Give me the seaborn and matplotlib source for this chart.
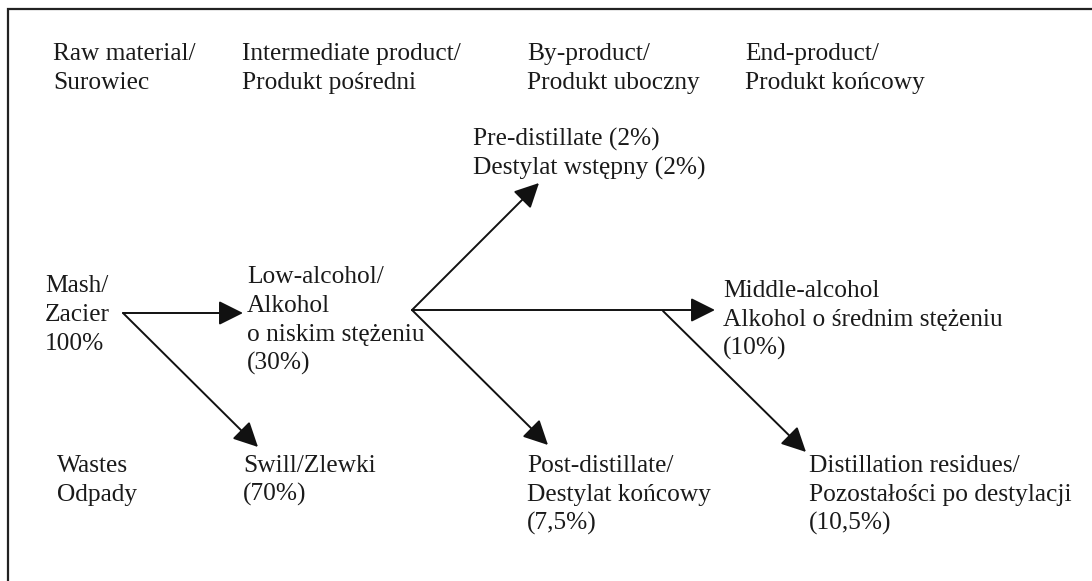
import matplotlib
matplotlib.use("Agg")
import matplotlib.pyplot as plt
import seaborn as sns

# column headings
headers = [
    ["Raw material/", "Surowiec"],
    ["Intermediate product/", "Produkt pośredni"],
    ["By-product/", "Produkt uboczny"],
    ["End-product/", "Produkt końcowy"],
]

# nodes of the flow: name -> text lines
nodes = {
    "mash": ["Mash/", "Zacier", "100%"],
    "low": ["Low-alcohol/", "Alkohol", "o niskim stężeniu", "(30%)"],
    "pre": ["Pre-distillate (2%)", "Destylat wstępny (2%)"],
    "middle": ["Middle-alcohol", "Alkohol o średnim stężeniu", "(10%)"],
    "wastes": ["Wastes", "Odpady"],
    "swill": ["Swill/Zlewki", "(70%)"],
    "post": ["Post-distillate/", "Destylat końcowy", "(7,5%)"],
    "residues": ["Distillation residues/", "Pozostałości po destylacji", "(10,5%)"],
}

# flows between nodes
edges = [
    ("mash", "low"),
    ("mash", "swill"),
    ("low", "pre"),
    ("low", "middle"),
    ("low", "post"),
    ("middle", "residues"),
]

# layout in pixel coordinates (y grows downwards)
W, H = 1092, 581
header_x = [53, 242, 527, 745]
header_y = 60
node_pos = {
    "mash": (45, 292),
    "low": (247, 283),
    "pre": (473, 146),
    "middle": (723, 297),
    "wastes": (57, 472),
    "swill": (243, 472),
    "post": (527, 472),
    "residues": (809, 472),
}
edge_xy = {
    ("mash", "low"): ((123, 313), (243, 313)),
    ("mash", "swill"): ((123, 313), (258, 447)),
    ("low", "pre"): ((412, 310), (539, 183)),
    ("low", "middle"): ((412, 310), (715, 310)),
    ("low", "post"): ((412, 310), (548, 445)),
    ("middle", "residues"): ((663, 311), (806, 452)),
}
LINE = 29
FONT = ["Liberation Serif", "DejaVu Serif"]
FS = 18.3

sns.set_theme(style="white")
plt.rcParams["font.family"] = FONT

fig = plt.figure(figsize=(W / 100, H / 100), dpi=100)
ax = fig.add_axes([0, 0, 1, 1])
ax.set_xlim(0, W)
ax.set_ylim(H, 0)
ax.axis("off")

# outer frame (cut off at right and bottom)
ax.plot([8, 8, W + 5], [H + 5, 9, 9], color="#222222", lw=1.6, solid_joinstyle="miter")


def put_lines(x, y, lines):
    for i, line in enumerate(lines):
        ax.text(x, y + i * LINE, line, fontsize=FS, color="#1a1a1a",
                ha="left", va="baseline")


for x, lines in zip(header_x, headers):
    put_lines(x, header_y, lines)

for name, lines in nodes.items():
    x, y = node_pos[name]
    put_lines(x, y, lines)

for e in edges:
    (x0, y0), (x1, y1) = edge_xy[e]
    ax.annotate("", xy=(x1, y1), xytext=(x0, y0),
                arrowprops=dict(arrowstyle="-|>,head_length=15,head_width=7.5",
                                mutation_scale=1, lw=1.4, color="#111111",
                                shrinkA=0, shrinkB=0))

fig.savefig("out.png", dpi=100)
